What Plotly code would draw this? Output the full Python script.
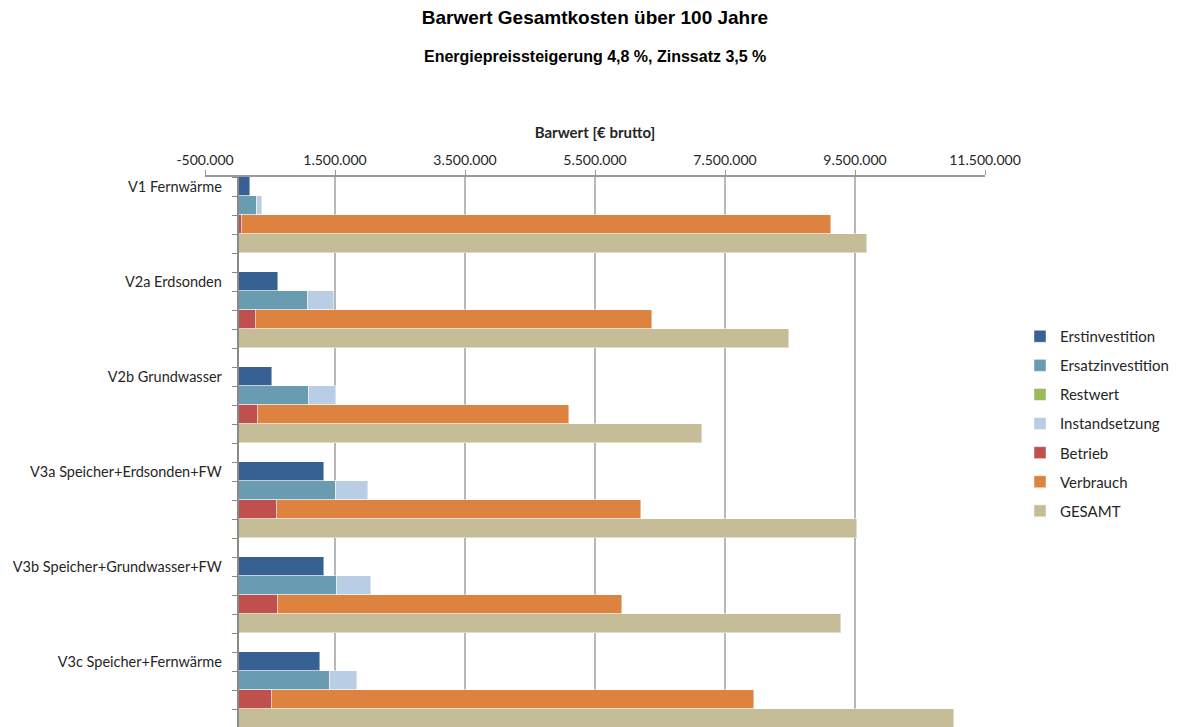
import plotly.graph_objects as go

# ---------------- data ----------------
variants = [
    "V1 Fernwärme",
    "V2a Erdsonden",
    "V2b Grundwasser",
    "V3a Speicher+Erdsonden+FW",
    "V3b Speicher+Grundwasser+FW",
    "V3c Speicher+Fernwärme",
]
erstinvestition = [190000, 625000, 535000, 1335000, 1335000, 1270000]
ersatzinvestition = [305000, 1090000, 1100000, 1515000, 1530000, 1430000]
restwert = [0, 0, 0, 0, 0, 0]
instandsetzung = [67000, 400000, 410000, 485000, 520000, 410000]
betrieb = [70000, 285000, 320000, 600000, 630000, 525000]
verbrauch = [9060000, 6095000, 4775000, 5600000, 5280000, 7415000]
gesamt = [9690000, 8480000, 7140000, 9530000, 9290000, 11030000]

x_tick_values = [-500000, 1500000, 3500000, 5500000, 7500000, 9500000, 11500000]
x_tick_labels = ["-500.000", "1.500.000", "3.500.000", "5.500.000",
                 "7.500.000", "9.500.000", "11.500.000"]

# ---------------- layout helpers ----------------
ROWS_PER_GROUP = 5
n = len(variants)

def rows(slot):
    return [g * ROWS_PER_GROUP + slot for g in range(n)]

colors = {
    "Erstinvestition": "#386193",
    "Ersatzinvestition": "#6A9CB1",
    "Restwert": "#9BBB59",
    "Instandsetzung": "#B9CDE5",
    "Betrieb": "#C0504D",
    "Verbrauch": "#DD833F",
    "GESAMT": "#C4BD97",
}

series = [
    ("Erstinvestition", erstinvestition, 0),
    ("Ersatzinvestition", ersatzinvestition, 1),
    ("Restwert", restwert, 1),
    ("Instandsetzung", instandsetzung, 1),
    ("Betrieb", betrieb, 2),
    ("Verbrauch", verbrauch, 2),
    ("GESAMT", gesamt, 3),
]

fig = go.Figure()
for name, vals, slot in series:
    fig.add_trace(go.Bar(
        name=name,
        x=vals,
        y=rows(slot),
        orientation="h",
        width=1.0,
        legendgroup=name,
        marker=dict(color=colors[name],
                    line=dict(color="rgba(255,255,255,0.45)", width=1)),
    ))

label_font = "Lato, Carlito, Calibri, sans-serif"

L, R, T = 205, 195, 177
plot_w = 1180 - L - R
x_min, x_max = -500000, 11500000
y_axis_pos = (0 - x_min) / (x_max - x_min)

row_px = 19.0
plot_h = 727 - T
bottom = -0.5 + plot_h / row_px

fig.update_layout(
    width=1180, height=727,
    margin=dict(l=L, r=R, t=T, b=0, pad=0),
    paper_bgcolor="white", plot_bgcolor="white",
    barmode="stack", bargap=0,
    showlegend=True,
    legend=dict(
        x=(1020 - L) / plot_w, xanchor="left",
        y=1 - (320 - T) / plot_h, yanchor="top",
        traceorder="grouped", tracegroupgap=6.6,
        font=dict(family=label_font, size=15, color="#262626"),
        itemwidth=30,
    ),
    title=dict(
        text="<b>Barwert Gesamtkosten über 100 Jahre</b>",
        x=0.5, xref="paper", xanchor="center",
        y=1 - 17 / 727, yref="container", yanchor="middle",
        font=dict(family="Liberation Sans, Arial, sans-serif", size=19, color="black"),
    ),
    annotations=[dict(
        text="<b>Energiepreissteigerung 4,8 %, Zinssatz 3,5 %</b>",
        xref="paper", x=0.5, xanchor="center",
        yref="paper", y=1 + (T - 56) / plot_h, yanchor="middle",
        showarrow=False,
        font=dict(family="Liberation Sans, Arial, sans-serif", size=16, color="black"),
    )],
    xaxis=dict(
        side="top",
        range=[x_min, x_max],
        tickmode="array", tickvals=x_tick_values, ticktext=x_tick_labels,
        ticks="outside", ticklen=5, tickcolor="#999999", tickwidth=1,
        showgrid=True, gridcolor="#B8B8B8", gridwidth=1.5,
        showline=True, linecolor="#999999", linewidth=1.5,
        zeroline=False,
        tickfont=dict(family=label_font, size=14, color="#262626"),
        title=dict(text="<b>Barwert [€ brutto]</b>", standoff=8,
                   font=dict(family=label_font, size=15, color="#262626")),
    ),
    yaxis=dict(
        range=[bottom, -0.5],
        anchor="free", position=y_axis_pos,
        tickmode="array", tickvals=rows(0), ticktext=variants,
        ticks="", ticklabelstandoff=12,
        showgrid=False, zeroline=False,
        showline=True, linecolor="#8A8A8A", linewidth=1.5,
        tickfont=dict(family=label_font, size=14.5, color="#262626"),
        minor=dict(tickmode="linear", tick0=0.5, dtick=1, ticks="outside",
                   ticklen=5, tickcolor="#8A8A8A", tickwidth=1, showgrid=False),
    ),
)

fig.write_html("out.html")
